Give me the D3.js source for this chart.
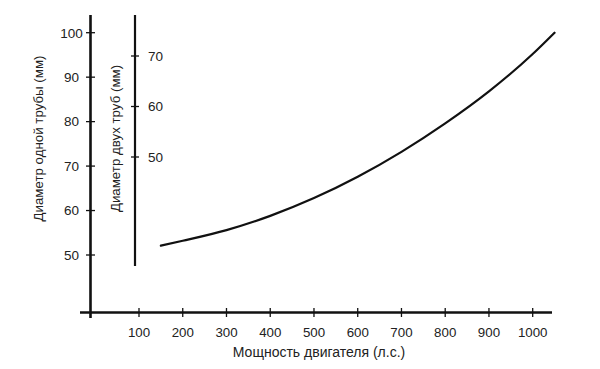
<!DOCTYPE html>
<html><head><meta charset="utf-8">
<script src="https://cdn.jsdelivr.net/npm/d3@7"></script>
<style>
html,body{margin:0;padding:0;background:#fff;}
svg{display:block;font-family:"Liberation Sans",Arial,sans-serif;}
</style></head>
<body><svg id="c" width="600" height="369"></svg>
<script>
// Data
const power = [150, 200, 300, 400, 500, 600, 700, 800, 900, 1000, 1050];
const diameterOne = [52.1, 53.2, 55.6, 58.8, 62.8, 67.6, 73.2, 79.6, 86.8, 95.2, 100];
const xTicks = [100, 200, 300, 400, 500, 600, 700, 800, 900, 1000];
const yOneTicks = [50, 60, 70, 80, 90, 100];
const yTwoTicks = [50, 60, 70];
const xTitle = "Мощность двигателя (л.с.)";
const yOneTitle = "Диаметр одной трубы (мм)";
const yTwoTitle = "Диаметр двух труб (мм)";

const svg = d3.select("#c");
const ink = "#111";
const x = d3.scaleLinear().domain([100, 1000]).range([139, 532.7]);
const y1 = d3.scaleLinear().domain([50, 100]).range([255, 32.7]);
const y2 = d3.scaleLinear().domain([50, 70]).range([157, 56]);

// x axis
const xAxisY = 312.5;
svg.append("line").attr("x1", 80).attr("x2", 552).attr("y1", xAxisY).attr("y2", xAxisY)
  .attr("stroke", ink).attr("stroke-width", 2.4);
svg.selectAll(".xt").data(xTicks).enter().append("line")
  .attr("x1", d => x(d)).attr("x2", d => x(d)).attr("y1", xAxisY - 4.5).attr("y2", xAxisY + 4.5)
  .attr("stroke", ink).attr("stroke-width", 1.3);
svg.selectAll(".xl").data(xTicks).enter().append("text")
  .attr("x", d => x(d)).attr("y", 336.5).attr("text-anchor", "middle")
  .attr("font-size", 13.3).attr("fill", "#222").text(d => d);
svg.append("text").attr("x", 319).attr("y", 357).attr("text-anchor", "middle")
  .attr("font-size", 14).attr("fill", "#222").text(xTitle);

// left axis (one pipe)
const ax1 = 90.5;
svg.append("line").attr("x1", ax1).attr("x2", ax1).attr("y1", 15).attr("y2", 318)
  .attr("stroke", ink).attr("stroke-width", 2.6);
svg.selectAll(".y1t").data(yOneTicks).enter().append("line")
  .attr("x1", ax1 - 4.5).attr("x2", ax1 + 4.5).attr("y1", d => y1(d)).attr("y2", d => y1(d))
  .attr("stroke", ink).attr("stroke-width", 1.3);
svg.selectAll(".y1l").data(yOneTicks).enter().append("text")
  .attr("x", 71.5).attr("y", d => y1(d)).attr("dy", "0.36em").attr("text-anchor", "middle")
  .attr("font-size", 13.5).attr("fill", "#222").text(d => d);
svg.append("text").attr("transform", "translate(43,138.5) rotate(-90)").attr("text-anchor", "middle")
  .attr("font-size", 13.3).attr("fill", "#222").text(yOneTitle);

// second axis (two pipes)
const ax2 = 135;
svg.append("line").attr("x1", ax2).attr("x2", ax2).attr("y1", 15).attr("y2", 266)
  .attr("stroke", ink).attr("stroke-width", 2.2);
svg.selectAll(".y2t").data(yTwoTicks).enter().append("line")
  .attr("x1", ax2 - 4).attr("x2", ax2 + 4).attr("y1", d => y2(d)).attr("y2", d => y2(d))
  .attr("stroke", ink).attr("stroke-width", 1.3);
svg.selectAll(".y2l").data(yTwoTicks).enter().append("text")
  .attr("x", 148).attr("y", d => y2(d)).attr("dy", "0.36em").attr("text-anchor", "start")
  .attr("font-size", 13.5).attr("fill", "#222").text(d => d);
svg.append("text").attr("transform", "translate(120,138.5) rotate(-90)").attr("text-anchor", "middle")
  .attr("font-size", 13.3).attr("fill", "#222").text(yTwoTitle);

// curve
const line = d3.line().x((d, i) => x(power[i])).y(d => y1(d)).curve(d3.curveMonotoneX);
svg.append("path").datum(diameterOne).attr("d", line)
  .attr("fill", "none").attr("stroke", ink).attr("stroke-width", 2.2).attr("stroke-linecap", "round");
</script></body></html>
